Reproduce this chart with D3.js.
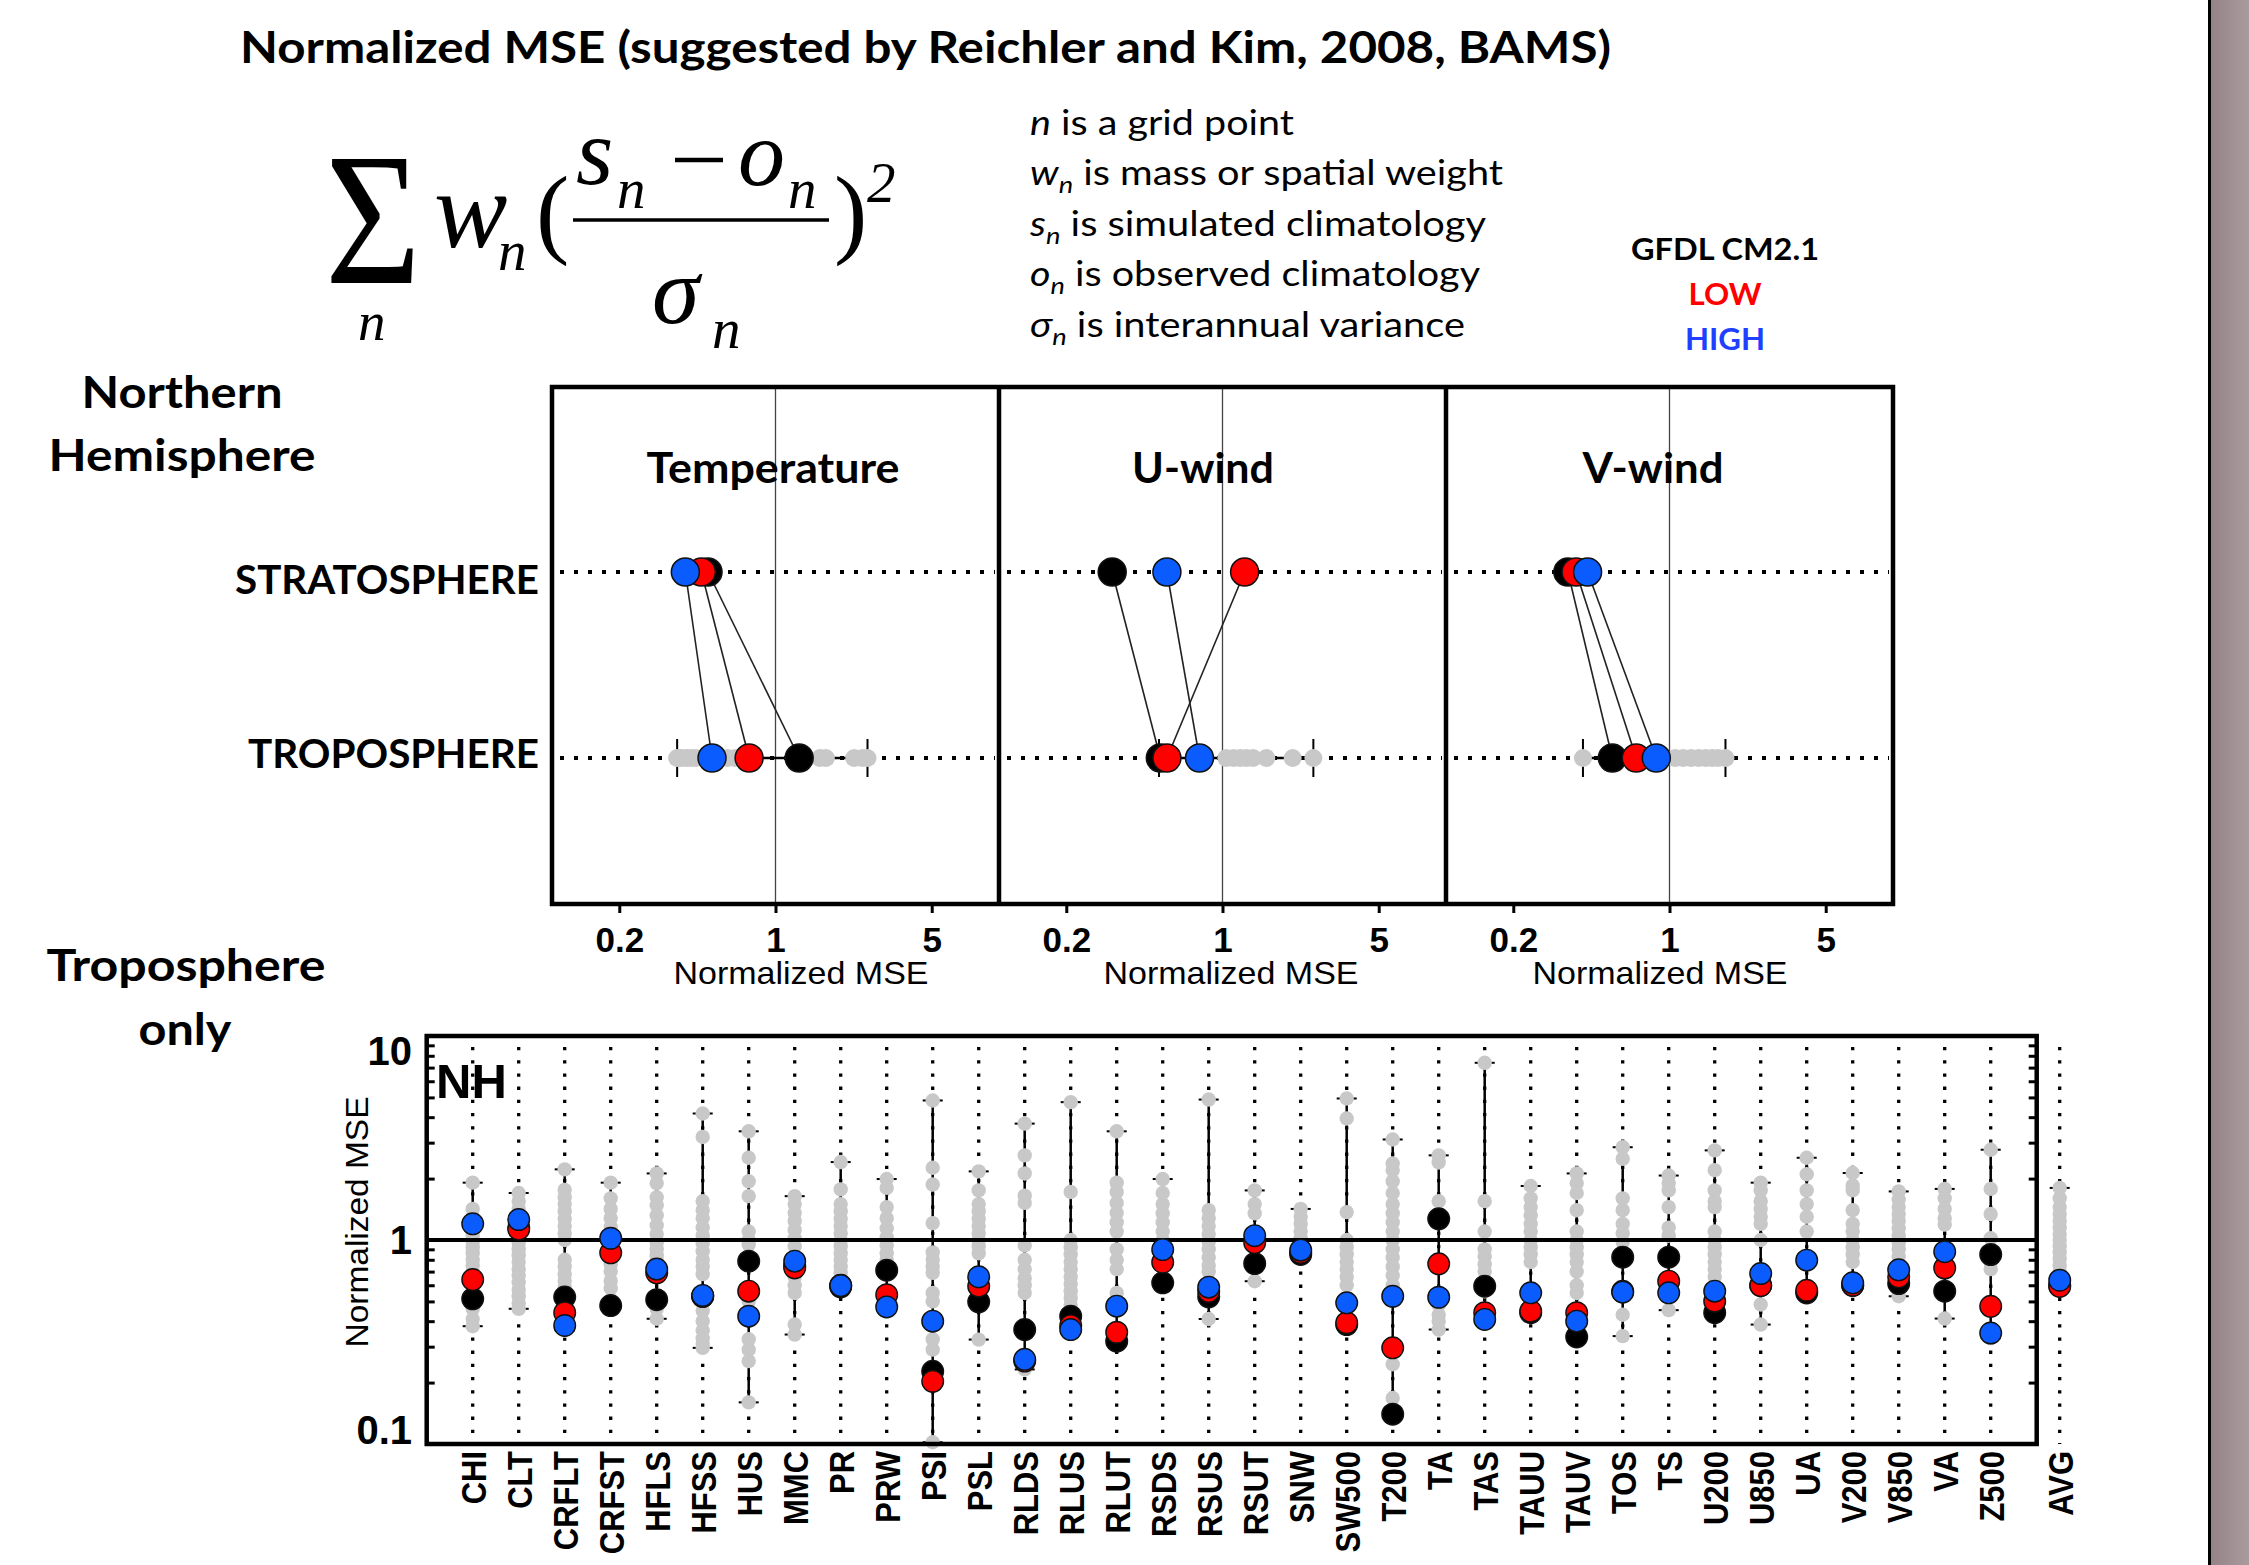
<!DOCTYPE html>
<html>
<head>
<meta charset="utf-8">
<script src="https://cdn.jsdelivr.net/npm/d3@7"></script>
<style>
  body { margin: 0; background: #fff; }
  svg { display: block; }
</style>
</head>
<body>
<svg id="slide" width="2249" height="1565"></svg>
<script>
// ---- data ----
const panelNames = ["Temperature", "U-wind", "V-wind"];
const levelNames = ["STRATOSPHERE", "TROPOSPHERE"];
const stratGfdl = [0.499, 0.321, 0.351];
const stratLow  = [0.466, 1.256, 0.382];
const stratHigh = [0.395, 0.564, 0.43];
const tropGfdl  = [1.276, 0.527, 0.555];
const tropLow   = [0.762, 0.564, 0.71];
const tropHigh  = [0.52, 0.789, 0.873];
const tropMin   = [0.363, 0.52, 0.41];
const tropMax   = [2.58, 2.55, 1.78];
const tropModels = [
  [0.363, 0.37, 0.38, 0.40, 0.42, 0.44, 0.61, 0.66, 1.58, 1.68, 2.25, 2.45, 2.58],
  [1.04, 1.12, 1.2, 1.28, 1.37, 1.57, 2.06, 2.55],
  [0.41, 1.06, 1.15, 1.25, 1.35, 1.45, 1.55, 1.65, 1.78]
];
const panelTicks = [0.2, 1, 5];

const categories = ["CHI","CLT","CRFLT","CRFST","HFLS","HFSS","HUS","MMC","PR","PRW","PSI","PSL",
  "RLDS","RLUS","RLUT","RSDS","RSUS","RSUT","SNW","SW500","T200","TA","TAS","TAUU","TAUV","TOS",
  "TS","U200","U850","UA","V200","V850","VA","Z500","AVG"];
const gfdl = [0.515,1.15,0.525,0.477,0.51,0.53,0.787,0.75,0.59,0.711,0.227,0.498,0.364,0.423,0.319,
  0.617,0.527,0.767,0.85,0.385,0.14,1.27,0.594,0.44,0.335,0.824,0.824,0.44,0.6,0.55,0.6,0.612,0.561,0.849,0.6];
const lowRes = [0.64,1.13,0.44,0.865,0.69,0.53,0.561,0.73,0.6,0.539,0.203,0.594,0.255,0.38,0.353,
  0.778,0.56,0.97,0.87,0.393,0.296,0.764,0.44,0.448,0.44,0.56,0.628,0.501,0.598,0.567,0.6,0.66,0.729,0.473,0.592];
const highRes = [1.20,1.26,0.381,1.02,0.72,0.535,0.423,0.787,0.598,0.47,0.40,0.66,0.26,0.364,0.474,
  0.898,0.587,1.05,0.891,0.492,0.53,0.524,0.408,0.551,0.40,0.555,0.551,0.561,0.685,0.796,0.617,0.714,0.876,0.35,0.635];
const rangeMin = [0.378,0.46,0.36,0.47,0.411,0.296,0.16,0.344,0.58,0.46,0.102,0.325,0.232,0.36,0.31,
  0.6,0.41,0.628,0.84,0.38,0.14,0.364,0.40,0.43,0.33,0.338,0.453,0.43,0.385,0.54,0.57,0.53,0.412,0.33,0.58];
const rangeMax = [1.91,1.70,2.22,1.91,2.12,4.17,3.41,1.64,2.41,1.99,4.83,2.17,3.72,4.74,3.41,
  1.99,4.88,1.75,1.42,4.94,3.11,2.6,7.39,1.84,2.12,2.85,2.07,2.75,1.91,2.53,2.13,1.73,1.78,2.77,1.80];
const models = [
  [1.91,1.42,1.30,1.15,1.05,0.98,0.92,0.86,0.80,0.75,0.70,0.46,0.41,0.378],
  [1.70,1.55,1.42,1.05,0.97,0.90,0.84,0.78,0.72,0.67,0.62,0.57,0.53,0.49,0.46],
  [2.22,1.76,1.62,1.50,1.38,1.27,1.17,1.08,1.0,0.80,0.74,0.68,0.63,0.59,0.36],
  [1.91,1.60,1.42,1.28,1.16,0.76,0.70,0.63,0.58],
  [2.12,1.90,1.62,1.48,1.32,1.18,1.07,0.97,0.90,0.84,0.80,0.46,0.411],
  [4.17,3.20,1.55,1.40,1.28,1.15,1.05,0.96,0.88,0.80,0.74,0.68,0.45,0.40,0.36,0.33,0.31,0.296],
  [3.41,2.53,1.94,1.64,1.10,1.0,0.95,0.50,0.326,0.29,0.255,0.16],
  [1.64,1.50,1.36,1.24,1.12,1.02,0.93,0.66,0.60,0.55,0.385,0.344],
  [2.41,1.77,1.50,1.38,1.27,1.17,1.08,1.0,0.93,0.86,0.80,0.74,0.69,0.64],
  [1.99,1.80,1.45,1.28,1.14,1.03,0.94,0.86,0.80,0.46],
  [4.83,2.26,1.87,1.21,0.87,0.80,0.74,0.69,0.55,0.50,0.326,0.29,0.102],
  [2.17,1.75,1.50,1.38,1.27,1.17,1.08,1.0,0.93,0.86,0.325],
  [3.72,2.60,2.12,1.65,1.52,0.94,0.80,0.72,0.65,0.60,0.55,0.232],
  [4.74,1.72,1.0,0.92,0.85,0.78,0.72,0.66,0.61,0.56,0.52,0.48],
  [3.41,1.91,1.72,1.52,1.36,1.22,1.10,0.90,0.80,0.72,0.55],
  [1.99,1.70,1.50,1.35,1.22,1.10,1.0],
  [4.88,1.40,1.28,1.17,1.07,0.98,0.90,0.82,0.75,0.70,0.41],
  [1.75,1.50,1.35,0.628],
  [1.42,1.30,1.20,1.10,1.02,0.95],
  [4.94,3.94,1.37,1.0,0.92,0.85,0.78,0.72,0.66,0.60],
  [3.11,2.37,2.20,1.94,1.70,1.50,1.35,1.22,1.10,1.0,0.90,0.82,0.74,0.67,0.60,0.246,0.168],
  [2.60,2.40,1.55,0.55,0.48,0.43,0.40,0.364],
  [7.39,1.55,1.10,0.90,0.83,0.76,0.70,0.56],
  [1.84,1.60,1.45,1.32,1.20,1.10,1.0,0.92,0.85,0.78,0.43],
  [2.12,1.90,1.70,1.40,1.10,1.0,0.92,0.85,0.78,0.70,0.60,0.55,0.33],
  [2.85,2.50,1.60,1.40,1.20,1.08,0.98,0.43,0.338],
  [2.07,1.90,1.75,1.45,1.15,1.05,0.453],
  [2.75,2.20,1.75,1.55,1.45,1.10,1.0,0.92,0.85,0.78,0.72,0.66,0.60],
  [1.91,1.75,1.55,1.42,1.30,1.20,1.0,0.483,0.385],
  [2.53,2.10,1.75,1.50,1.30,1.10],
  [2.13,1.85,1.75,1.40,1.20,1.10,1.0,0.92,0.85,0.78,0.57],
  [1.73,1.58,1.45,1.34,1.24,1.14,1.05,0.97,0.90,0.83,0.77,0.53],
  [1.78,1.60,1.42,1.28,1.19,0.412],
  [2.77,1.78,1.34,1.02,0.78,0.72,0.33],
  [1.80,1.60,1.45,1.34,1.24,1.15,1.07,1.0,0.93,0.87,0.81,0.75,0.70]
];
const yLabels = [0.1, 1, 10];
const minorTicks = [0.2,0.3,0.4,0.5,0.6,0.7,0.8,0.9,2,3,4,5,6,7,8,9];

const BLACK = "#000", RED = "#ff0000", BLUE = "#0b5cff", GREY = "#c8c8c8";
const calibri = "Lato, 'Open Sans', sans-serif";
const helv = "'Liberation Sans', Arial, sans-serif";
const times = "'Liberation Serif', 'Times New Roman', serif";

const svg = d3.select("#slide");

// slide edge on the right
const grad = svg.append("defs").append("linearGradient").attr("id", "edge")
  .attr("x1", 0).attr("x2", 1).attr("y1", 0).attr("y2", 0);
grad.append("stop").attr("offset", "0%").attr("stop-color", "#958387");
grad.append("stop").attr("offset", "100%").attr("stop-color", "#a99b9d");
svg.append("rect").attr("x", 2211).attr("y", 0).attr("width", 38).attr("height", 1565).attr("fill", "url(#edge)");
svg.append("line").attr("x1", 2209.5).attr("x2", 2209.5).attr("y1", 0).attr("y2", 1565)
  .attr("stroke", "#000").attr("stroke-width", 3);

// title
svg.append("text").attr("x", 240).attr("y", 63).attr("font-family", calibri).attr("font-weight", 700)
  .attr("font-size", 44).attr("textLength", 1371).attr("lengthAdjust", "spacingAndGlyphs")
  .text("Normalized MSE (suggested by Reichler and Kim, 2008, BAMS)");

// formula
const f = svg.append("g").attr("font-family", times);
f.append("text").attr("x", 325).attr("y", 283).attr("font-size", 188).attr("textLength", 96)
  .attr("lengthAdjust", "spacingAndGlyphs").text("Σ");
const it = (x, y, size, t) => f.append("text").attr("x", x).attr("y", y).attr("font-size", size)
  .attr("font-style", "italic").text(t);
it(358, 340, 55, "n");
it(434, 247, 110, "w");
it(498, 270, 57, "n");
f.append("text").attr("x", 536).attr("y", 245).attr("font-size", 100).text("(");
it(576, 184, 96, "s");
it(617, 208, 57, "n");
f.append("line").attr("x1", 675).attr("x2", 723).attr("y1", 160).attr("y2", 160).attr("stroke", "#000").attr("stroke-width", 4.5);
it(738, 185, 94, "o");
it(788, 208, 57, "n");
f.append("line").attr("x1", 573).attr("x2", 829).attr("y1", 220).attr("y2", 220).attr("stroke", "#000").attr("stroke-width", 3.5);
f.append("text").attr("x", 834).attr("y", 245).attr("font-size", 100).text(")");
it(867, 202, 57, "2");
it(652, 323, 96, "σ");
it(712, 348, 57, "n");

// definitions next to the formula
const defsText = [
  ["n", "", " is a grid point", 135, 264],
  ["w", "n", " is mass or spatial weight", 185, 473],
  ["s", "n", " is simulated climatology", 236, 456],
  ["o", "n", " is observed climatology", 286, 450],
  ["σ", "n", " is interannual variance", 337, 435]
];
defsText.forEach(d => {
  const t = svg.append("text").attr("x", 1030).attr("y", d[3]).attr("font-family", calibri)
    .attr("font-size", 35).attr("textLength", d[4]).attr("lengthAdjust", "spacingAndGlyphs");
  t.append("tspan").attr("font-style", "italic").text(d[0]);
  if (d[1]) t.append("tspan").attr("font-style", "italic").attr("font-size", 24).attr("dy", 8).text(d[1]);
  t.append("tspan").attr("dy", d[1] ? -8 : 0).text(d[2]);
});

[["GFDL CM2.1", "#000", 260, 188], ["LOW", "#ff0000", 305, 73], ["HIGH", "#2040ff", 350, 80]].forEach(d => {
  svg.append("text").attr("x", 1725).attr("y", d[2]).attr("text-anchor", "middle").attr("font-family", calibri)
    .attr("font-weight", 700).attr("font-size", 31).attr("fill", d[1]).attr("textLength", d[3])
    .attr("lengthAdjust", "spacingAndGlyphs").text(d[0]);
});

// left side headings
const head = (x, y, t, w, anchor) => svg.append("text").attr("x", x).attr("y", y).attr("text-anchor", anchor || "middle")
  .attr("font-family", calibri).attr("font-weight", 700).attr("font-size", 43)
  .attr("textLength", w).attr("lengthAdjust", "spacingAndGlyphs").text(t);
head(182, 408, "Northern", 201);
head(182, 471, "Hemisphere", 267);
head(186, 981, "Troposphere", 279);
head(185, 1045, "only", 93);

// ---- top panels ----
const P = { x0: 552, w: 447, top: 387, bot: 904 };
const rowY = [572, 758];
head(539, 594, levelNames[0], 304, "end").attr("font-size", 40);
head(539, 768, levelNames[1], 291, "end").attr("font-size", 40);

const titleW = [253, 142, 141], titleX = [773, 1203, 1653], labelX = [801, 1231, 1660];

panelNames.forEach((name, i) => {
  const x0 = P.x0 + i * P.w;
  const xs = d3.scaleLog().domain([0.1, 10]).range([x0, x0 + P.w]);
  const g = svg.append("g");

  g.append("line").attr("x1", xs(1)).attr("x2", xs(1)).attr("y1", P.top).attr("y2", P.bot)
    .attr("stroke", "#444").attr("stroke-width", 1.3);
  rowY.forEach(y => g.append("line").attr("x1", x0 + 8).attr("x2", x0 + P.w - 4).attr("y1", y).attr("y2", y)
    .attr("stroke", "#000").attr("stroke-width", 4).attr("stroke-dasharray", "4 10"));

  g.append("text").attr("x", titleX[i]).attr("y", 483).attr("text-anchor", "middle").attr("font-family", calibri)
    .attr("font-weight", 700).attr("font-size", 42).attr("textLength", titleW[i]).attr("lengthAdjust", "spacingAndGlyphs")
    .text(name);

  // spread of the other models in the troposphere
  const ty = rowY[1];
  g.append("line").attr("x1", xs(tropMin[i])).attr("x2", xs(tropMax[i])).attr("y1", ty).attr("y2", ty)
    .attr("stroke", "#000").attr("stroke-width", 2.5);
  [tropMin[i], tropMax[i]].forEach(v => g.append("line").attr("x1", xs(v)).attr("x2", xs(v))
    .attr("y1", ty - 19).attr("y2", ty + 19).attr("stroke", "#000").attr("stroke-width", 2));
  g.selectAll(".gm").data(tropModels[i]).join("circle").attr("class", "gm")
    .attr("cx", d => xs(d)).attr("cy", ty).attr("r", 9).attr("fill", GREY);

  const trio = [[stratGfdl[i], tropGfdl[i], BLACK], [stratLow[i], tropLow[i], RED], [stratHigh[i], tropHigh[i], BLUE]];
  g.selectAll(".link").data(trio).join("line").attr("class", "link")
    .attr("x1", d => xs(d[0])).attr("y1", rowY[0]).attr("x2", d => xs(d[1])).attr("y2", rowY[1])
    .attr("stroke", "#222").attr("stroke-width", 1.6);
  trio.forEach(d => {
    [0, 1].forEach(k => g.append("circle").attr("cx", xs(d[k])).attr("cy", rowY[k]).attr("r", 14)
      .attr("fill", d[2]).attr("stroke", "#111").attr("stroke-width", 1.5));
  });

  const ax = g.append("g").attr("transform", `translate(0,${P.bot})`)
    .call(d3.axisBottom(xs).tickValues(panelTicks).tickSize(9).tickFormat(d3.format("")));
  ax.select(".domain").remove();
  ax.selectAll("line").attr("stroke-width", 3);
  ax.selectAll("text").attr("y", 23).attr("font-family", helv).attr("font-weight", 700).attr("font-size", 35)
    .attr("fill", "#000");

  g.append("text").attr("x", labelX[i]).attr("y", 984).attr("text-anchor", "middle").attr("font-family", helv)
    .attr("font-size", 32).attr("textLength", 255).attr("lengthAdjust", "spacingAndGlyphs").text("Normalized  MSE");
});
// panel frames
svg.append("rect").attr("x", P.x0).attr("y", P.top).attr("width", 3 * P.w).attr("height", P.bot - P.top)
  .attr("fill", "none").attr("stroke", "#000").attr("stroke-width", 4.5);
[1, 2].forEach(k => svg.append("line").attr("x1", P.x0 + k * P.w).attr("x2", P.x0 + k * P.w)
  .attr("y1", P.top).attr("y2", P.bot).attr("stroke", "#000").attr("stroke-width", 4.5));

// ---- bottom chart ----
const B = { x0: 426.7, x1: 2036.7, y0: 1036, y1: 1444 };
const xb = d3.scaleLinear().domain([0, 35]).range([B.x0, B.x1]);
const yb = d3.scaleLog().domain([0.1, 10]).range([B.y1, B.y0]);
const pos = i => xb(i < 34 ? i + 1 : 35.5);

const cols = categories.map((c, i) => ({ c, i, x: pos(i) }));
const bg = svg.append("g");

bg.selectAll(".vdot").data(cols).join("line").attr("class", "vdot")
  .attr("x1", d => d.x).attr("x2", d => d.x).attr("y1", B.y0 + 11).attr("y2", B.y1)
  .attr("stroke", "#000").attr("stroke-width", 3.3).attr("stroke-dasharray", "3.3 9.9");

bg.append("text").attr("x", 436).attr("y", 1098).attr("font-family", helv).attr("font-weight", 700)
  .attr("font-size", 49).text("NH");

bg.selectAll(".rng").data(cols).join("line").attr("class", "rng")
  .attr("x1", d => d.x).attr("x2", d => d.x).attr("y1", d => yb(rangeMin[d.i])).attr("y2", d => yb(rangeMax[d.i]))
  .attr("stroke", "#000").attr("stroke-width", 2.5);
cols.forEach(d => [rangeMin[d.i], rangeMax[d.i]].forEach(v => bg.append("line")
  .attr("x1", d.x - 10).attr("x2", d.x + 10).attr("y1", yb(v)).attr("y2", yb(v))
  .attr("stroke", "#000").attr("stroke-width", 2)));

cols.forEach(d => bg.selectAll(null).data(models[d.i]).join("circle")
  .attr("cx", d.x).attr("cy", v => yb(v)).attr("r", 7.2).attr("fill", GREY));

bg.append("line").attr("x1", B.x0).attr("x2", B.x1).attr("y1", yb(1)).attr("y2", yb(1))
  .attr("stroke", "#000").attr("stroke-width", 4);

[[gfdl, BLACK], [lowRes, RED], [highRes, BLUE]].forEach(([vals, col]) => {
  bg.selectAll(null).data(cols).join("circle")
    .attr("cx", d => d.x).attr("cy", d => yb(vals[d.i])).attr("r", 10.8)
    .attr("fill", col).attr("stroke", "#111").attr("stroke-width", 1.4);
});

// frame and axes
const lAx = bg.append("g").attr("transform", `translate(${B.x0},0)`)
  .call(d3.axisLeft(yb).tickValues(minorTicks).tickSize(-8).tickFormat(""));
const rAx = bg.append("g").attr("transform", `translate(${B.x1},0)`)
  .call(d3.axisRight(yb).tickValues(minorTicks).tickSize(-8).tickFormat(""));
[lAx, rAx].forEach(a => { a.select(".domain").remove(); a.selectAll("line").attr("stroke-width", 3); });
bg.append("rect").attr("x", B.x0).attr("y", B.y0).attr("width", B.x1 - B.x0).attr("height", B.y1 - B.y0)
  .attr("fill", "none").attr("stroke", "#000").attr("stroke-width", 4.5);

const yOff = { 0.1: -14, 1: 0, 10: 15 };
bg.selectAll(".ylab").data(yLabels).join("text").attr("class", "ylab")
  .attr("x", 412).attr("y", d => yb(d) + yOff[d]).attr("dy", "0.36em").attr("text-anchor", "end")
  .attr("font-family", helv).attr("font-weight", 700).attr("font-size", 40).text(d => d);

bg.append("text").attr("transform", "translate(356,1222) rotate(-90)").attr("dy", "0.36em")
  .attr("text-anchor", "middle").attr("font-family", helv).attr("font-size", 32)
  .attr("textLength", 251).attr("lengthAdjust", "spacingAndGlyphs").text("Normalized  MSE");

bg.selectAll(".clab").data(cols).join("text").attr("class", "clab")
  .attr("transform", d => `translate(${d.x},1451) rotate(-90) scale(0.86,1)`)
  .attr("dy", "0.36em").attr("text-anchor", "end").attr("font-family", helv).attr("font-weight", 700)
  .attr("font-size", 36).text(d => d.c);
</script>
</body>
</html>
